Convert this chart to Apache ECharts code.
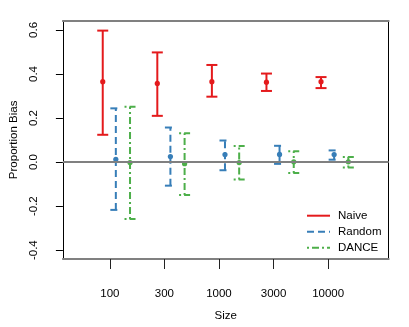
<!DOCTYPE html>
<html>
<head>
<meta charset="utf-8">
<script src="https://cdn.jsdelivr.net/npm/echarts@6/dist/echarts.min.js"></script>
<style>
  html, body { margin: 0; padding: 0; background: #fff; }
  #chart { width: 409px; height: 327px; }
</style>
</head>
<body>
<div id="chart"></div>
<script>
// sample sizes along the x axis
const sizes = ['100', '300', '1000', '3000', '10000'];

// Naive estimator: mean and interval
const naiveMean = [0.365, 0.357, 0.365, 0.363, 0.365];
const naiveLow  = [0.124, 0.210, 0.297, 0.323, 0.336];
const naiveHigh = [0.597, 0.498, 0.441, 0.402, 0.386];

// Random sampling
const randomMean = [0.013, 0.025, 0.034, 0.035, 0.034];
const randomLow  = [-0.217, -0.107, -0.037, -0.008, 0.011];
const randomHigh = [0.244, 0.157, 0.098, 0.074, 0.053];

// DANCE
const danceMean = [-0.002, -0.007, -0.002, 0.001, 0.001];
const danceLow  = [-0.258, -0.149, -0.079, -0.049, -0.025];
const danceHigh = [0.251, 0.131, 0.073, 0.049, 0.023];

const yTicks = [-0.4, -0.2, 0.0, 0.2, 0.4, 0.6];

const FONT = '"Liberation Sans", Arial, sans-serif';
const GRAY = '#808080';

function rows(mean, low, high, offset) {
    return sizes.map(function(s, i){
        return [i + 1 + offset, low[i], mean[i], high[i]];
    });
}

function errorBar(color, dash) {
    return function(params, api) {
        const x = api.value(0);
        const lo = api.coord([x, api.value(1)]);
        const mid = api.coord([x, api.value(2)]);
        const hi = api.coord([x, api.value(3)]);
        const cap = 5.5;
        const st = { stroke: color, lineWidth: 2, lineDash: dash, fill: null };
        return {
            type: 'group',
            children: [
                { type: 'line', shape: { x1: lo[0], y1: lo[1], x2: hi[0], y2: hi[1] }, style: st },
                { type: 'line', shape: { x1: hi[0] - cap, y1: hi[1], x2: hi[0] + cap, y2: hi[1] }, style: st },
                { type: 'line', shape: { x1: lo[0] - cap, y1: lo[1], x2: lo[0] + cap, y2: lo[1] }, style: st },
                { type: 'circle', shape: { cx: mid[0], cy: mid[1], r: 2.6 }, style: { fill: color } }
            ]
        };
    };
}

const myChart = echarts.init(document.getElementById('chart'));

const groups = [
    { name: 'Naive',  color: '#E41A1C', dash: null,         data: rows(naiveMean, naiveLow, naiveHigh, -0.13) },
    { name: 'Random', color: '#377EB8', dash: [7, 4],       data: rows(randomMean, randomLow, randomHigh, 0.11) },
    { name: 'DANCE',  color: '#4DAF4A', dash: [2, 3, 7, 3], data: rows(danceMean, danceLow, danceHigh, 0.37) }
];

const series = groups.map(function(g){
    return {
        type: 'custom',
        name: g.name,
        renderItem: errorBar(g.color, g.dash),
        data: g.data,
        encode: { x: 0, y: [1, 2, 3] },
        z: 3
    };
});

// horizontal reference line at zero
series.unshift({
    type: 'line',
    data: [],
    markLine: {
        silent: true,
        symbol: 'none',
        label: { show: false },
        lineStyle: { color: GRAY, width: 2, type: 'solid' },
        data: [{ yAxis: 0 }]
    },
    z: 1
});

// legend drawn by hand so the dash styles match
const legendGraphics = [];
groups.forEach(function(g, i){
    const y = 215.7 + i * 16;
    legendGraphics.push({
        type: 'line',
        shape: { x1: 307, y1: y, x2: 330, y2: y },
        style: { stroke: g.color, lineWidth: 2, lineDash: g.dash }
    });
    legendGraphics.push({
        type: 'text',
        x: 338, y: y,
        style: { text: g.name, font: '11.5px ' + FONT, fill: '#000', verticalAlign: 'middle' }
    });
});

option = {
    backgroundColor: '#fff',
    animation: false,
    grid: { left: 60.5, right: 20.3, top: 20.7, bottom: 65, containLabel: false },
    xAxis: [
        {
            type: 'value',
            min: 0.14,
            max: 6.11,
            name: 'Size',
            nameLocation: 'middle',
            nameGap: 51,
            nameTextStyle: { fontFamily: FONT, fontSize: 11.5, color: '#000' },
            axisLine: { show: true, onZero: false, lineStyle: { color: GRAY, width: 2 } },
            axisTick: { show: true, length: 10, customValues: [1, 2, 3, 4, 5], lineStyle: { color: '#222', width: 1 } },
            axisLabel: {
                customValues: [1, 2, 3, 4, 5],
                margin: 29,
                fontFamily: FONT, fontSize: 11.5, color: '#000',
                formatter: function(v){ return sizes[Math.round(v) - 1]; }
            },
            splitLine: { show: false }
        },
        {
            type: 'value',
            position: 'top',
            min: 0.14,
            max: 6.11,
            axisLine: { show: true, onZero: false, lineStyle: { color: GRAY, width: 2 } },
            axisTick: { show: false },
            axisLabel: { show: false },
            splitLine: { show: false }
        }
    ],
    yAxis: [
        {
            type: 'value',
            min: -0.44,
            max: 0.642,
            name: 'Proportion Bias',
            nameLocation: 'middle',
            nameGap: 42,
            nameTextStyle: { fontFamily: FONT, fontSize: 11.5, color: '#000' },
            axisLine: { show: true, onZero: false, lineStyle: { color: '#000', width: 1 } },
            axisTick: { show: true, length: 7, customValues: yTicks, lineStyle: { color: '#000', width: 1 } },
            axisLabel: {
                customValues: yTicks,
                rotate: 90,
                margin: 23,
                fontFamily: FONT, fontSize: 11.5, color: '#000',
                formatter: function(v){ return v.toFixed(1); }
            },
            splitLine: { show: false }
        },
        {
            type: 'value',
            position: 'right',
            min: -0.44,
            max: 0.642,
            axisLine: { show: true, onZero: false, lineStyle: { color: '#000', width: 1 } },
            axisTick: { show: false },
            axisLabel: { show: false },
            splitLine: { show: false }
        }
    ],
    series: series,
    graphic: legendGraphics
};

myChart.setOption(option, true);
</script>
</body>
</html>
